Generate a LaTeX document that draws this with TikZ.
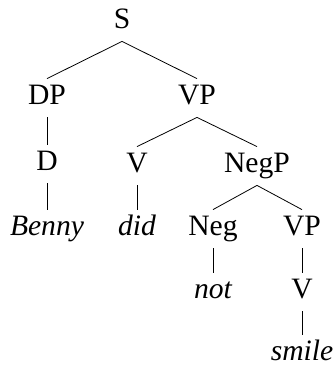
\documentclass[tikz,border=0pt]{standalone}
\usepackage{fontspec}
\setmainfont{Liberation Serif}
\begin{document}
\begin{tikzpicture}[x=0.5pt,y=-0.5pt]
    \tikzstyle{cat}=[anchor=base, inner sep=0pt, text height=12.5pt, text depth=6.5pt, font=\fontsize{14.8}{17}\selectfont];
    \tikzstyle{word}=[cat, font=\fontsize{14.8}{17}\selectfont\itshape];
    \useasboundingbox (0,0) rectangle (335,366);

	\node at (122, 28) [cat] (s) {S};
	\node at (47, 104) [cat] (dp) {DP};
	\node at (197, 104) [cat] (vp) {VP};
	\node at (47, 170) [cat] (d) {D};
	\node at (137, 172) [cat] (v) {V};
	\node at (257, 172) [cat] (negp) {NegP};
	\node at (47, 235) [word] (benny) {Benny};
	\node at (137, 235) [word] (did) {did};
	\node at (213, 235) [cat] (neg) {Neg};
	\node at (302, 235) [cat] (vpb) {VP};
	\node at (213, 298) [word] (not) {not};
	\node at (302, 298) [cat] (vb) {V};
	\node at (302, 360) [word] (smile) {smile};

	\draw (s.south) -- (dp.north);
	\draw (s.south) -- (vp.north);
	\draw (dp.south) -- (d.north);
	\draw (d.south) -- (benny.north);
	\draw (vp.south) -- (v.north);
	\draw (vp.south) -- (negp.north);
	\draw (v.south) -- (did.north);
	\draw (negp.south) -- (neg.north);
	\draw (negp.south) -- (vpb.north);
	\draw (neg.south) -- (not.north);
	\draw (vpb.south) -- (vb.north);
	\draw (vb.south) -- (smile.north);
\end{tikzpicture}
\end{document}
